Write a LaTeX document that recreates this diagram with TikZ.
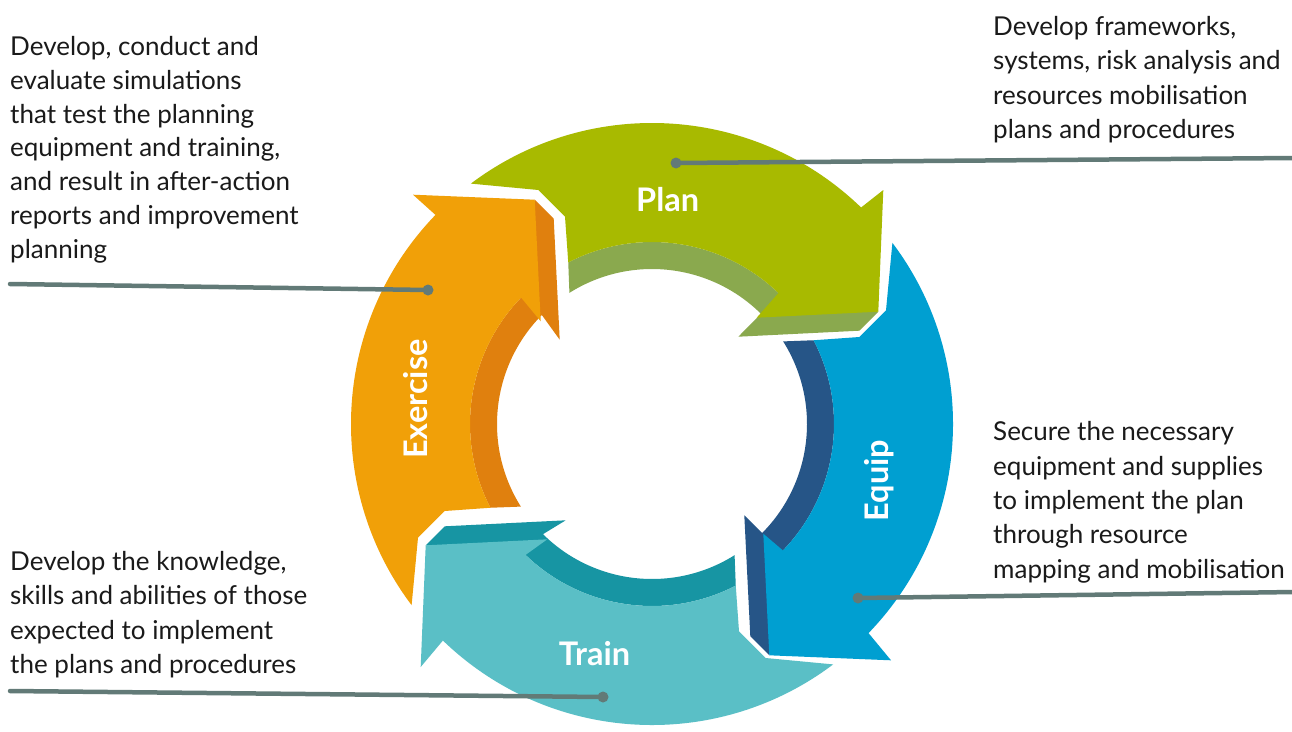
\documentclass[tikz,border=0pt]{standalone}
\usepackage{fontspec}
\setmainfont{Lato}
\definecolor{planL}{HTML}{A8BA00}
\definecolor{planD}{HTML}{8AA94E}
\definecolor{exerL}{HTML}{F1A008}
\definecolor{exerD}{HTML}{E0800E}
\definecolor{equipL}{HTML}{009FD1}
\definecolor{equipD}{HTML}{265587}
\definecolor{trainL}{HTML}{5ABFC6}
\definecolor{trainD}{HTML}{1795A3}
\definecolor{connC}{HTML}{627A77}
\definecolor{txtC}{HTML}{1A1A1A}
% #1 rotation, #2 light colour, #3 dark colour, #4 head shift (local)
\newcommand{\cyclearrow}[4]{%
\begin{scope}[shift={(652,-424)}, rotate=#1]
 \fill[#3] (117.4:182pt) -- (122.2:155pt) arc[start angle=122.2, end angle=45.3, radius=155pt]
   -- ([shift={#4}]86.3,87.3) -- ([shift={#4}]207.3,93.3) -- ([shift={#4}]226.3,112.3) -- (46:182pt)
   arc[start angle=46, end angle=117.4, radius=182pt] -- cycle;
 \fill[#2] (127:301pt) -- (-113.7,234) -- (-87,207.3) -- (117.4:182pt)
   arc[start angle=117.4, end angle=46, radius=182pt]
   -- ([shift={#4}]104.7,106.3) -- ([shift={#4}]226.3,112.3) -- ([shift={#4}]231.3,234) -- (46:301pt)
   arc[start angle=46, end angle=127, radius=301pt] -- cycle;
\end{scope}}
\tikzset{
  body/.style={anchor=base west, inner sep=0pt, align=left, text=txtC},
  phase/.style={anchor=base, inner sep=0pt, text=white,
    font=\fontsize{32.5}{38}\selectfont\bfseries},
  dotnode/.style={circle, fill=connC, minimum size=11pt, inner sep=0pt},
  conn/.style={draw=connC, line width=4.5pt, line cap=round}
}
\begin{document}
\begin{tikzpicture}[x=1pt,y=1pt]
\useasboundingbox (0,-731) rectangle (1292,0);
\fill[white] (0,-731) rectangle (1292,0);
% arrows
\cyclearrow{0}{planL}{planD}{(0,0)}
\cyclearrow{90}{exerL}{exerD}{(-2,5)}
\cyclearrow{180}{trainL}{trainD}{(0,9)}
\cyclearrow{270}{equipL}{equipD}{(5,5)}
% phase labels
\node[phase] (lplan) at (667.7,-211.7) {Plan};
\node[phase] (ltrain) at (594.5,-665) {Train};
\node[phase, rotate=90] (lexer) at (427,-399) {Exercise};
\node[phase, rotate=90] (lequip) at (888,-480.5) {Equip};
% descriptions
\node[body, font=\fontsize{26}{33.7}\selectfont] (texer) at (10,-258) {Develop, conduct and\\evaluate simulations\\that test the planning\\equipment and training,\\and result in after-action\\reports and improvement\\planning};
\node[body, font=\fontsize{26}{34.5}\selectfont] (tplan) at (993,-138.5) {Develop frameworks,\\systems, risk analysis and\\resources mobilisation\\plans and procedures};
\node[body, font=\fontsize{26}{34.3}\selectfont] (tequip) at (993,-578) {Secure the necessary\\equipment and supplies\\to implement the plan\\through resource\\mapping and mobilisation};
\node[body, font=\fontsize{26}{34.2}\selectfont] (ttrain) at (10,-673.3) {Develop the knowledge,\\skills and abilities of those\\expected to implement\\the plans and procedures};
% connectors
\node[dotnode] (dplan) at (676,-163) {};
\coordinate (eplan) at (1294,-158);
\draw[conn] (dplan.center) -- (eplan);
\node[dotnode] (dexer) at (428,-290) {};
\coordinate (eexer) at (10,-284);
\draw[conn] (dexer.center) -- (eexer);
\node[dotnode] (dequip) at (858,-598) {};
\coordinate (eequip) at (1294,-592);
\draw[conn] (dequip.center) -- (eequip);
\node[dotnode] (dtrain) at (603,-697) {};
\coordinate (etrain) at (10,-691);
\draw[conn] (dtrain.center) -- (etrain);
\end{tikzpicture}
\end{document}
